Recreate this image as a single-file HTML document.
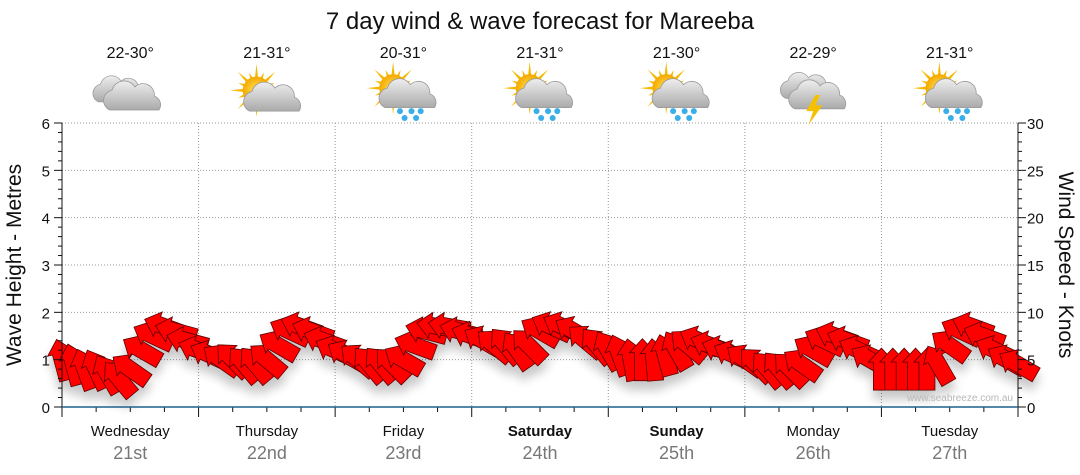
<!DOCTYPE html>
<html><head><meta charset="utf-8"><style>
body{margin:0;background:#fff;}
svg{display:block;font-family:"Liberation Sans",sans-serif;}
</style></head><body>
<svg id="chart" width="1080" height="475" viewBox="0 0 1080 475" xmlns="http://www.w3.org/2000/svg">
<defs>
<filter id="sh" x="-20%" y="-20%" width="140%" height="160%"><feGaussianBlur in="SourceAlpha" stdDeviation="5"/><feOffset dy="9" result="b"/><feComponentTransfer><feFuncA type="linear" slope="0.22"/></feComponentTransfer><feMerge><feMergeNode/><feMergeNode in="SourceGraphic"/></feMerge></filter>
<radialGradient id="sun" cx="0.5" cy="0.5" r="0.5"><stop offset="0" stop-color="#ffe45a"/><stop offset="1" stop-color="#f5a800"/></radialGradient>
<linearGradient id="cl" x1="0" y1="0" x2="0" y2="1"><stop offset="0" stop-color="#eee"/><stop offset="1" stop-color="#aaa"/></linearGradient>
</defs>
<text x="540" y="29" font-size="24" text-anchor="middle" fill="#111">7 day wind &amp; wave forecast for Mareeba</text>
<g id="grid"></g>
<g id="icons"></g>
<g id="arrows" filter="url(#sh)"></g>
<g id="axes"></g>
<text x="1013" y="401" font-size="10" text-anchor="end" fill="#b8b8b8">www.seabreeze.com.au</text>
<text transform="translate(21,265) rotate(-90)" font-size="21" text-anchor="middle" fill="#111">Wave Height - Metres</text>
<text transform="translate(1059,265) rotate(90)" font-size="21" text-anchor="middle" fill="#111">Wind Speed - Knots</text>
</svg>
<script>
const days = ["Wednesday","Thursday","Friday","Saturday","Sunday","Monday","Tuesday"];
const dates = ["21st","22nd","23rd","24th","25th","26th","27th"];
const boldDays = [false,false,false,true,true,false,false];
const temps = ["22-30°","21-31°","20-31°","21-31°","21-30°","22-29°","21-31°"];
const iconTypes = ["cloud","suncloud","sunrain","sunrain","sunrain","storm","sunrain"];
const waveTicks = [0,1,2,3,4,5,6];
const windTicks = [0,5,10,15,20,25,30];
const windSpeeds = [5,4.5,4,4,3.5,3,4,6,7.5,8.5,8,7,
 6,5.5,5,5,4.5,4.5,5,6.5,8,8.5,8,7,
 6,5.5,5,4.5,4.5,4.5,5,6.5,8,8.5,8.5,8,
 7.5,7,6.5,6.5,6,6.5,8,8.5,8.5,8,7,6.5,
 6,5.5,5,5,5,5.5,6,6.5,7,6.5,6,5.5,
 5,4.5,4,4,4,4.5,6,7,7.5,7,6,5,
 4,4,4,4,4,4.5,6.5,8,8.5,7.5,6,5,4.5];
const windDirs = [345,345,340,335,330,320,305,300,295,290,285,285,
 290,295,305,315,320,320,310,300,295,290,290,290,
 295,300,310,320,320,315,300,290,285,280,280,285,
 290,300,310,320,325,315,300,295,295,300,310,320,
 330,340,350,0,355,345,330,310,295,290,290,295,
 305,315,320,320,315,305,300,295,290,290,295,300,
 0,0,0,0,0,330,305,295,290,290,295,300,300];
const stepHours = 2;

const NS="http://www.w3.org/2000/svg";
const X0=62,X1=1018,Y0=407,Y1=123,DAYW=(X1-X0)/7;
const xH=h=>X0+h/24*DAYW;
const yWave=v=>Y0-(v/6)*(Y0-Y1);
const yWind=v=>Y0-(v/30)*(Y0-Y1);
function el(t,a,p){const e=document.createElementNS(NS,t);for(const k in a)e.setAttribute(k,a[k]);p.appendChild(e);return e;}
const grid=document.getElementById('grid'),axes=document.getElementById('axes'),icons=document.getElementById('icons'),arrows=document.getElementById('arrows');
waveTicks.forEach(v=>{
  if(v>0){const g=el('line',{x1:X0,x2:X1,y1:yWave(v),y2:yWave(v),stroke:'#999','stroke-dasharray':'1,2'},grid);
  
  }
  const t=el('text',{x:50,y:yWave(v)+6,'font-size':15,'text-anchor':'end',fill:'#111'},axes);t.textContent=v;
  
  
});
for(let i=0;i<=30;i++){const y=Y0-i/30*(Y0-Y1);const len=i%5==0?8:4;
  el('line',{x1:X0-len,x2:X0,y1:y,y2:y,stroke:'#111'},axes);
  el('line',{x1:X1,x2:X1+len,y1:y,y2:y,stroke:'#111'},axes);}
windTicks.forEach(v=>{const t=el('text',{x:1027,y:yWind(v)+6,'font-size':15,fill:'#111'},axes);t.textContent=v;
  
  });
for(let d=1;d<7;d++){const g=el('line',{x1:X0+d*DAYW,x2:X0+d*DAYW,y1:Y1,y2:Y0,stroke:'#999','stroke-dasharray':'1,2'},grid);
  
  }
for(let h=0;h<=168;h+=6){const x=xH(h);el('line',{x1:x,x2:x,y1:Y0,y2:Y0+(h%24==0?10:5),stroke:'#111'},axes);}
el('line',{x1:X0,x2:X0,y1:Y1,y2:Y0,stroke:'#111'},axes);
el('line',{x1:X1,x2:X1,y1:Y1,y2:Y0,stroke:'#111'},axes);
el('line',{x1:X0,x2:X1,y1:Y0,y2:Y0,stroke:'#1f5f8b','stroke-width':1.5},axes);
days.forEach((d,i)=>{const cx=X0+(i+0.5)*DAYW;
  const t=el('text',{x:cx,y:436,'font-size':15,'text-anchor':'middle',fill:'#111','font-weight':boldDays[i]?'bold':'normal'},axes);t.textContent=d;
  
  
  const t2=el('text',{x:cx,y:459,'font-size':18,'text-anchor':'middle',fill:'#777'},axes);t2.textContent=dates[i];
  
  
  const t3=el('text',{x:cx,y:58,'font-size':16,'text-anchor':'middle',fill:'#111'},icons);t3.textContent=temps[i];
  
  
  const g=el('g',{transform:`translate(${cx},95) scale(1.15)`},icons);
  
  
  const ty=iconTypes[i];
  function cloud(dx,dy,s){const c=el('g',{transform:`translate(${dx},${dy}) scale(${s})`},g);
    el('path',{d:'M-22,10 a9,9 0 0 1 2,-17 a11,11 0 0 1 20,-3 a10,10 0 0 1 17,8 a8,8 0 0 1 4,12 z',fill:'url(#cl)',stroke:'#999','stroke-width':0.7},c);}
  function sun(dx,dy){for(let k=0;k<16;k++){const a=k*Math.PI/8,r=k%2?17:23;
      el('polygon',{points:`${dx+Math.cos(a)*r},${dy+Math.sin(a)*r} ${dx+Math.cos(a+0.15)*10},${dy+Math.sin(a+0.15)*10} ${dx+Math.cos(a-0.15)*10},${dy+Math.sin(a-0.15)*10}`,fill:'#f5b800'},g);}
    el('circle',{cx:dx,cy:dy,r:12,fill:'url(#sun)'},g);}
  if(ty==='cloud'){cloud(-8,-3,0.9);cloud(4,3,1);}
  else if(ty==='suncloud'){sun(-9,-4);cloud(7,4,1);}
  else if(ty==='sunrain'){sun(-9,-6);cloud(6,1,1);[[-3,14],[7,14],[15,14],[1,20],[11,20]].forEach(p=>el('circle',{cx:p[0],cy:p[1],r:2.6,fill:'#3aaee8'},g));}
  else {cloud(-4,-6,0.9);cloud(6,2,1);el('polygon',{points:'2,0 -6,14 0,14 -4,26 8,9 2,9 6,0',fill:'#f5c000'},g);}
});
windSpeeds.forEach((s,i)=>{const x=xH(i*stepHours),y=yWind(s);
  const a=el('polygon',{points:'-8,21 8,21 8,-7 13,-7 0,-21 -13,-7 -8,-7',fill:'#ff0000',stroke:'#5a0000','stroke-width':0.8,transform:`translate(${x},${y}) rotate(${windDirs[i]})`},arrows);
  
  
});
</script>
</body></html>
